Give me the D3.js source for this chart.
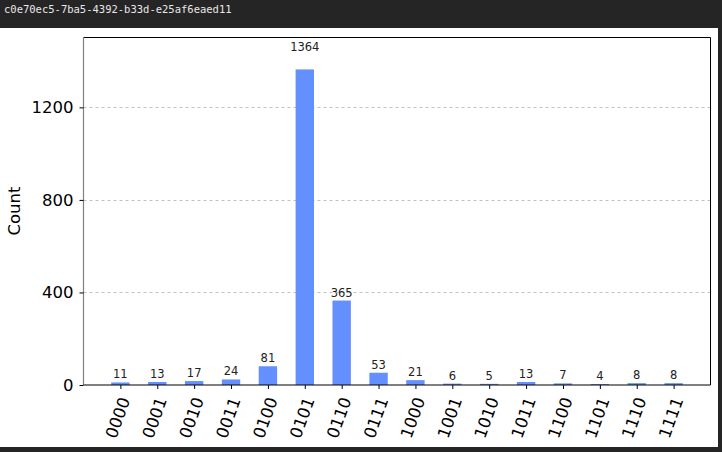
<!DOCTYPE html>
<html><head><meta charset="utf-8">
<script src="https://cdn.jsdelivr.net/npm/d3@7"></script>
<style>
html,body{margin:0;padding:0;background:#252526;}
svg{display:block;}
</style></head>
<body>
<svg id="c" width="722" height="452"></svg>
<script>
const categories = ["0000","0001","0010","0011","0100","0101","0110","0111","1000","1001","1010","1011","1100","1101","1110","1111"];
const counts = [11,13,17,24,81,1364,365,53,21,6,5,13,7,4,8,8];
const yTicks = [0,400,800,1200];
const title = "c0e70ec5-7ba5-4392-b33d-e25af6eaed11";

const svg = d3.select("#c");
svg.append("rect").attr("x",0).attr("y",0).attr("width",722).attr("height",452).attr("fill","#252526");
svg.append("rect").attr("x",0).attr("y",28).attr("width",718).attr("height",419).attr("fill","#ffffff");
svg.append("text").attr("x",4).attr("y",13).attr("font-family","DejaVu Sans Mono, monospace")
  .attr("font-size",10.5).attr("fill","#e8e8e8").text(title);

const L=83.5, R=710.5, T=37.5, B=385;
const x = d3.scaleLinear().domain([-1,16]).range([L,R]);
const y = d3.scaleLinear().domain([0,1502]).range([B,T]);
const bw = 18.4;
const maxVal = d3.max(counts);

const g = svg.append("g");
g.selectAll("line.grid").data(yTicks.filter(d=>d>0)).join("line")
  .attr("x1",L).attr("x2",R).attr("y1",d=>Math.round(y(d))+0.5).attr("y2",d=>Math.round(y(d))+0.5)
  .attr("stroke","#b0b0b0").attr("stroke-width",0.8).attr("stroke-dasharray","3,3");
g.selectAll("rect.bar").data(counts).join("rect")
  .attr("x",(d,i)=>x(i)-bw/2).attr("width",bw)
  .attr("y",d=>y(d)).attr("height",d=>B-y(d)).attr("fill","#648fff");
g.selectAll("text.val").data(counts).join("text")
  .attr("x",(d,i)=>x(i)).attr("y",d=>y(d)-(d===maxVal?18:4)).attr("text-anchor","middle")
  .attr("font-family","DejaVu Sans").attr("font-size",11.5).attr("fill","#222").text(d=>d);

svg.append("line").attr("x1",L).attr("x2",R).attr("y1",T).attr("y2",T).attr("stroke","#000").attr("stroke-width",1);
svg.append("line").attr("x1",R).attr("x2",R).attr("y1",T).attr("y2",B).attr("stroke","#000").attr("stroke-width",1);
svg.append("line").attr("x1",L).attr("x2",L).attr("y1",T).attr("y2",B).attr("stroke","#808080").attr("stroke-width",1.2);
svg.append("line").attr("x1",L).attr("x2",R).attr("y1",B).attr("y2",B).attr("stroke","#000").attr("stroke-width",1.2);

const ya = svg.append("g").attr("transform",`translate(${L},0)`)
  .call(d3.axisLeft(y).tickValues(yTicks).tickSize(4).tickPadding(6).tickFormat(d3.format("d")));
ya.select(".domain").remove();
ya.selectAll("text").attr("font-family","DejaVu Sans").attr("font-size",16.5).attr("fill","#000");
ya.selectAll("line").attr("stroke","#000");

const xa = svg.append("g").attr("transform",`translate(0,${B})`)
  .call(d3.axisBottom(x).tickValues(d3.range(categories.length)).tickSize(4).tickFormat(i=>categories[i]));
xa.select(".domain").remove();
xa.selectAll("line").attr("stroke","#000");
xa.selectAll("text").attr("font-family","DejaVu Sans").attr("font-size",16.5).attr("fill","#000")
  .attr("text-anchor","end").attr("y",0)
  .attr("transform","translate(4,13) rotate(-70)").attr("dx","0").attr("dy","0.35em");

svg.append("text").attr("transform","translate(20,211) rotate(-90)").attr("text-anchor","middle")
  .attr("font-family","DejaVu Sans").attr("font-size",16.5).attr("fill","#000").text("Count");
</script>
</body></html>
